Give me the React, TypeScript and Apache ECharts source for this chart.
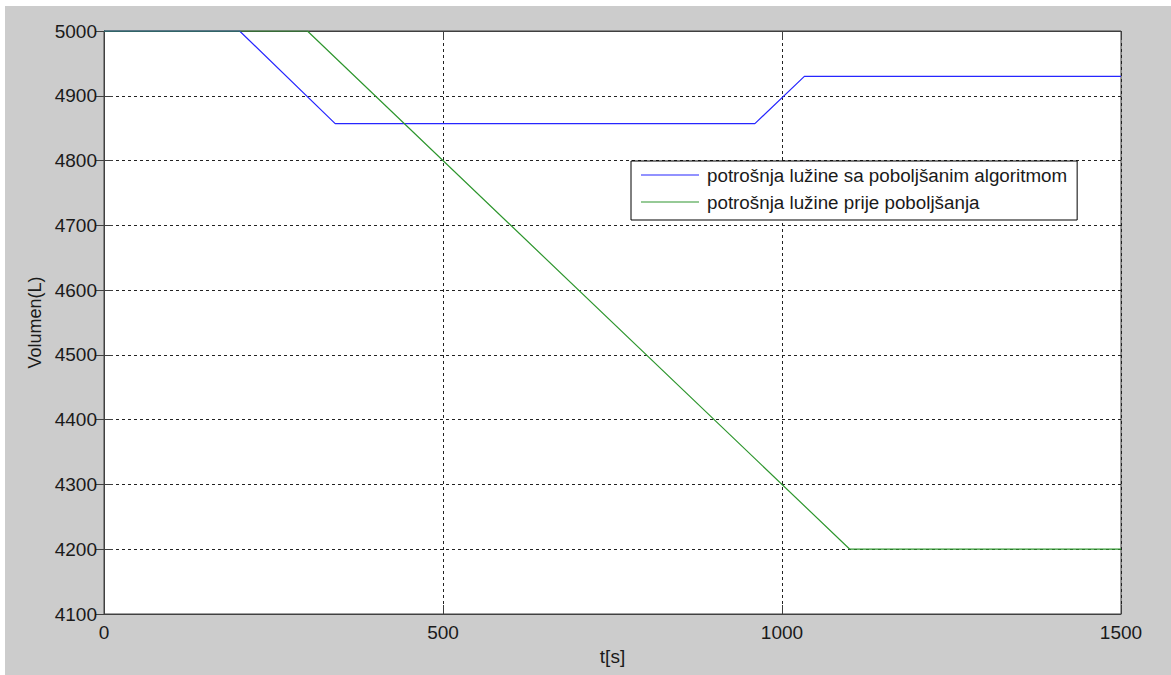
import React, { useEffect, useRef } from "react";
import * as echarts from "echarts";

// Volume of lye over time, two operating modes
const timeImproved = [0, 200, 341, 960, 1033, 1500];
const volumeImproved = [5000, 5000, 4857, 4857, 4930, 4930];
const timeBefore = [0, 300, 1100, 1500];
const volumeBefore = [5000, 5000, 4200, 4200];

const seriesNames = [
  "potrošnja lužine sa poboljšanim algoritmom",
  "potrošnja lužine prije poboljšanja",
];
const xTicks = { min: 0, max: 1500, interval: 500 };
const yTicks = { min: 4100, max: 5000, interval: 100 };
const xName = "t[s]";
const yName = "Volumen(L)";

const FONT = "'Liberation Sans', Arial, Helvetica, sans-serif";
const TEXT = "#1a1a1a";
const FRAME = "#404040";
const BLUE = "#2626ff";
const GREEN = "#2e962e";

export default function App() {
  const ref = useRef<HTMLDivElement>(null);

  useEffect(() => {
    if (!ref.current) return;
    const chart = echarts.init(ref.current, undefined, { renderer: "svg" });

    const pairs = (xs: number[], ys: number[]) => xs.map((x, i) => [x, ys[i]]);
    const plain = (v: number) => String(v);

    const splitLine = {
      show: true,
      lineStyle: { color: "#222", width: 1, type: [3, 3] as number[] },
    };
    const tick = { show: true, inside: true, length: 9, lineStyle: { color: FRAME } };
    const axisLine = { show: true, lineStyle: { color: FRAME, width: 1 } };
    const lineIcon = "path://M0,0 L58,0 L58,1.2 L0,1.2 Z";

    chart.setOption({
      animation: false,
      backgroundColor: "#cccccc",
      textStyle: { fontFamily: FONT },
      grid: {
        left: 99,
        top: 25,
        width: 1017,
        height: 583,
        show: true,
        backgroundColor: "#ffffff",
        borderColor: FRAME,
        borderWidth: 1,
      },
      legend: {
        data: seriesNames.map((name) => ({ name, icon: lineIcon })),
        orient: "vertical",
        left: 626,
        top: 155,
        backgroundColor: "#ffffff",
        borderColor: "#000000",
        borderWidth: 1,
        borderRadius: 0,
        padding: [4, 10, 8, 10],
        itemGap: 7,
        itemWidth: 58,
        itemHeight: 20,
        symbolKeepAspect: true,
        selectedMode: false,
        textStyle: {
          fontSize: 18.8,
          color: TEXT,
          fontFamily: FONT,
          lineHeight: 20,
          padding: [0, 0, 0, 3],
        },
      },
      xAxis: [
        {
          type: "value",
          min: xTicks.min,
          max: xTicks.max,
          interval: xTicks.interval,
          position: "bottom",
          name: xName,
          nameLocation: "middle",
          nameGap: 33,
          nameTextStyle: { fontSize: 19, color: TEXT, fontFamily: FONT },
          axisLine,
          axisTick: tick,
          axisLabel: { fontSize: 19, color: TEXT, margin: 9, fontFamily: FONT, formatter: plain },
          splitLine,
        },
        {
          type: "value",
          min: xTicks.min,
          max: xTicks.max,
          interval: xTicks.interval,
          position: "top",
          axisLine,
          axisTick: tick,
          axisLabel: { show: false },
          splitLine: { show: false },
        },
      ],
      yAxis: [
        {
          type: "value",
          min: yTicks.min,
          max: yTicks.max,
          interval: yTicks.interval,
          position: "left",
          name: yName,
          nameLocation: "middle",
          nameGap: 56,
          nameTextStyle: { fontSize: 18, color: TEXT, fontFamily: FONT },
          axisLine,
          axisTick: tick,
          axisLabel: { fontSize: 19, color: TEXT, margin: 7, fontFamily: FONT, formatter: plain },
          splitLine,
        },
        {
          type: "value",
          min: yTicks.min,
          max: yTicks.max,
          interval: yTicks.interval,
          position: "right",
          axisLine,
          axisTick: tick,
          axisLabel: { show: false },
          splitLine: { show: false },
        },
      ],
      series: [
        {
          name: seriesNames[0],
          type: "line",
          symbol: "none",
          data: pairs(timeImproved, volumeImproved),
          lineStyle: { color: BLUE, width: 1.2 },
          itemStyle: { color: BLUE },
          z: 3,
        },
        {
          name: seriesNames[1],
          type: "line",
          symbol: "none",
          data: pairs(timeBefore, volumeBefore),
          lineStyle: { color: GREEN, width: 1.2 },
          itemStyle: { color: GREEN },
          z: 4,
        },
      ],
    });

    return () => chart.dispose();
  }, []);

  return (
    <div
      style={{
        position: "fixed",
        left: 0,
        top: 0,
        width: 1171,
        height: 675,
        background: "#ffffff",
      }}
    >
      <div
        ref={ref}
        style={{ position: "absolute", left: 5, top: 6, width: 1166, height: 669 }}
      />
    </div>
  );
}
